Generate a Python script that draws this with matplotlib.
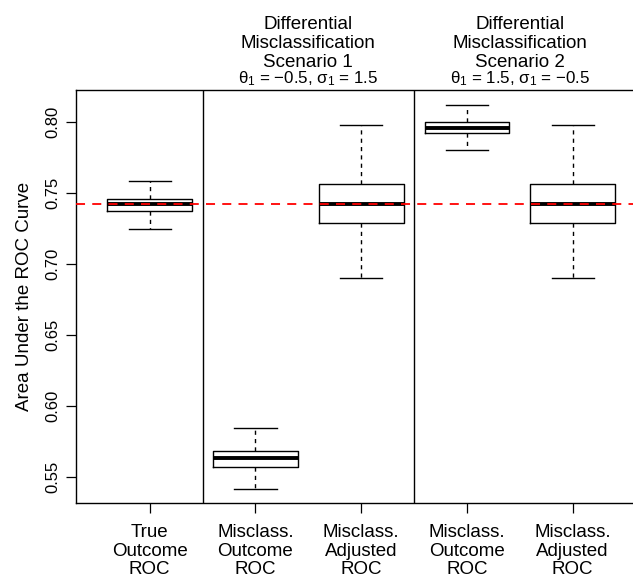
import matplotlib
matplotlib.use("Agg")
import matplotlib.pyplot as plt
from matplotlib.transforms import blended_transform_factory

plt.rcParams["font.family"] = ["Liberation Sans", "DejaVu Sans"]
plt.rcParams["mathtext.fontset"] = "custom"
plt.rcParams["mathtext.rm"] = "Liberation Sans"
plt.rcParams["mathtext.it"] = "Liberation Sans"

# box statistics
labels = ["True\nOutcome\nROC", "Misclass.\nOutcome\nROC", "Misclass.\nAdjusted\nROC",
          "Misclass.\nOutcome\nROC", "Misclass.\nAdjusted\nROC"]
whislo = [0.7244, 0.5413, 0.6901, 0.7801, 0.6901]
q1 = [0.7371, 0.5567, 0.7284, 0.7918, 0.7284]
med = [0.7418, 0.5630, 0.7418, 0.7958, 0.7418]
q3 = [0.7453, 0.5683, 0.7561, 0.8000, 0.7561]
whishi = [0.7585, 0.5845, 0.7977, 0.8118, 0.7977]
true_auc = 0.7418
separators = [1.5, 3.5]
title_pos = [2.5, 4.5]
scenario_titles = ["Differential\nMisclassification\nScenario 1",
                   "Differential\nMisclassification\nScenario 2"]
scenario_params = [r"θ$_1$ = −0.5, σ$_1$ = 1.5", r"θ$_1$ = 1.5, σ$_1$ = −0.5"]
yticks = [0.55, 0.60, 0.65, 0.70, 0.75, 0.80]

W, H = 633, 577
x0, step = 149.7, 105.75   # pixel of first box, pixels per box
fig = plt.figure(figsize=(W / 100, H / 100), dpi=100)
ax = fig.add_axes([76 / W, (H - 503) / H, (650 - 76) / W, (503 - 89.5) / H])

stats = []
for i in range(len(labels)):
    stats.append(dict(whislo=whislo[i], q1=q1[i], med=med[i], q3=q3[i], whishi=whishi[i]))
pos = list(range(1, len(labels) + 1))
ax.bxp(stats, positions=pos, widths=0.8, showfliers=False, patch_artist=False,
       boxprops=dict(color="black", lw=1),
       medianprops=dict(color="black", lw=2.8, solid_capstyle="butt"),
       whiskerprops=dict(color="black", lw=1, linestyle=(0, (3, 3))),
       capprops=dict(color="black", lw=1), capwidths=0.4)

ax.axhline(true_auc, color="red", lw=1.3, linestyle=(0, (5, 4)), zorder=5)
for s in separators:
    ax.axvline(s, color="black", lw=1)

ax.set_xlim(1 - (x0 - 76) / step, 1 + (650 - x0) / step)
ax.set_ylim(0.80 - (503 - 121.7) / 1420, 0.80 + (121.7 - 89.5) / 1420)
ax.set_yticks(yticks)
ax.set_yticklabels([f"{v:.2f}" for v in yticks], rotation=90, va="center", fontsize=12)
ax.set_xticks(pos)
ax.set_xticklabels(labels, fontsize=13.5, linespacing=1.14)
ax.tick_params(direction="out", length=7, width=0.9)
ax.tick_params(axis="x", pad=8)
ax.tick_params(axis="y", pad=4)
ax.set_ylabel("Area Under the ROC Curve", fontsize=13.5, labelpad=9)
for side in ["top", "bottom", "left", "right"]:
    ax.spines[side].set_linewidth(1)

tr = blended_transform_factory(ax.transData, ax.transAxes)
for k in range(2):
    ax.annotate(scenario_titles[k], xy=(title_pos[k], 1), xycoords=tr, xytext=(0, 16.5),
                textcoords="offset points", ha="center", va="baseline",
                fontsize=13.5, linespacing=1.12)
    ax.annotate(scenario_params[k], xy=(title_pos[k], 1), xycoords=tr, xytext=(0, 4.7),
                textcoords="offset points", ha="center", va="baseline", fontsize=12.2)

fig.savefig("out.png", dpi=100)
